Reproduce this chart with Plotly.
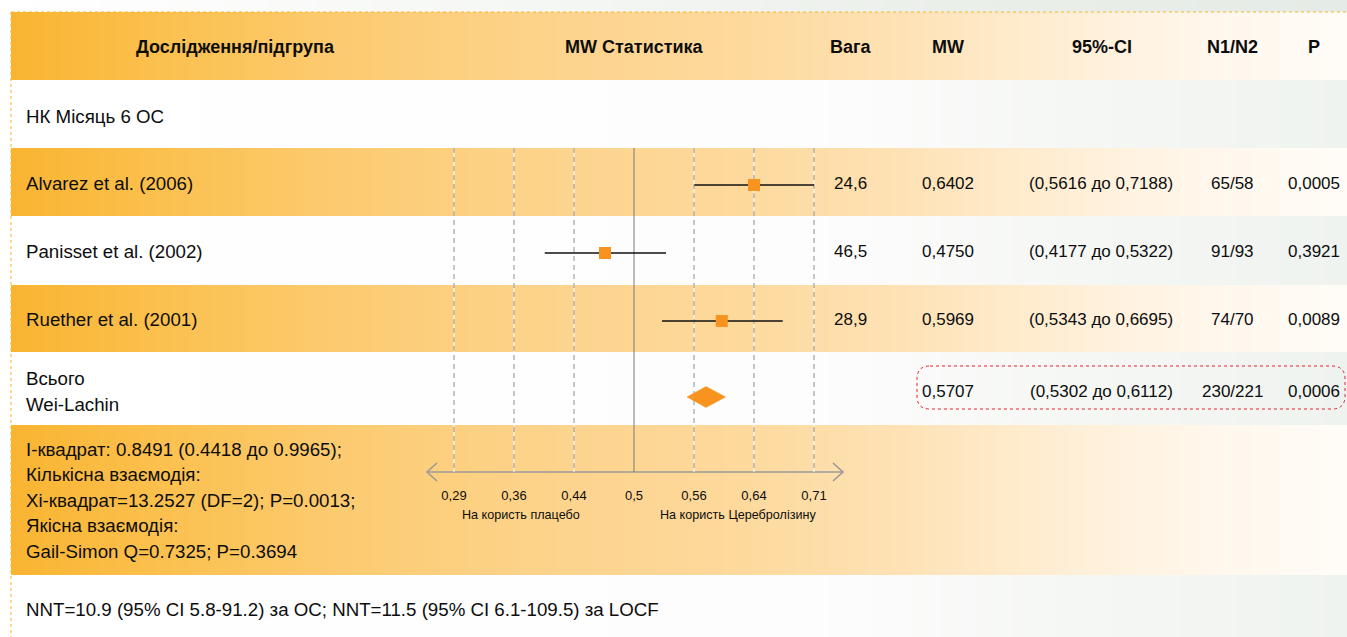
import numpy as np
import plotly.graph_objects as go

W, H = 1347, 637

# ---------------- data ----------------
studies = ["Alvarez et al. (2006)", "Panisset et al. (2002)", "Ruether et al. (2001)"]
weights = ["24,6", "46,5", "28,9"]
mw_text = ["0,6402", "0,4750", "0,5969"]
ci_text = ["(0,5616 до 0,7188)", "(0,4177 до 0,5322)", "(0,5343 до 0,6695)"]
n_text = ["65/58", "91/93", "74/70"]
p_text = ["0,0005", "0,3921", "0,0089"]

# MW positions as drawn in the graphic (read against its axis)
est_plot = [0.640, 0.471, 0.597]
lo_plot = [0.5605, 0.401, 0.528]
hi_plot = [0.710, 0.532, 0.6735]

total_label = ["Всього", "Wei-Lachin"]
total_mw = "0,5707"
total_ci = "(0,5302 до 0,6112)"
total_n = "230/221"
total_p = "0,0006"
total_est_plot = 0.576
total_lo_plot = 0.553
total_hi_plot = 0.602

tick_vals = [0.29, 0.36, 0.44, 0.5, 0.56, 0.64, 0.71]
tick_text = ["0,29", "0,36", "0,44", "0,5", "0,56", "0,64", "0,71"]
ref_value = 0.5

headers = ["Дослідження/підгрупа", "MW Статистика", "Вага", "MW", "95%-CI", "N1/N2", "P"]
subgroup = "НК Місяць 6 ОС"
favour_labels = ["На користь плацебо", "На користь Церебролізину"]
stats_lines = [
    "I-квадрат: 0.8491 (0.4418 до 0.9965);",
    "Кількісна взаємодія:",
    "Xi-квадрат=13.2527 (DF=2); P=0.0013;",
    "Якісна взаємодія:",
    "Gail-Simon Q=0.7325; P=0.3694",
]
nnt_text = "NNT=10.9 (95% CI 5.8-91.2) за ОС; NNT=11.5 (95% CI 6.1-109.5) за LOCF"

# ---------------- layout constants ----------------
FONT = "Liberation Sans, Arial, Helvetica, sans-serif"
ORANGE = "#F7931E"
TXT = "#0d0d0d"
BODY = 18.7
NUM = 17
HEAD = 18

tick_idx = np.arange(len(tick_vals), dtype=float)


def to_axis(v):
    return np.interp(np.asarray(v, dtype=float), tick_vals, tick_idx)


PX0, PX_STEP = 454.0, 60.0          # pixel of first tick, pixels per tick step
row_y = [185, 253, 321]
total_y = 397
grid_top, axis_y = 148, 472
left_x = 24

header_x = [235, 634, 851, 948, 1102, 1232, 1314]
col_w, col_mw, col_ci, col_n, col_p = 850, 948, 1101, 1232, 1314

bands = [(0, 12, "top"), (12, 80, "o"), (80, 148, "w"), (148, 216, "o"), (216, 285, "w"),
         (285, 352, "o"), (352, 425, "w"), (425, 575, "o"), (575, 637, "w")]

fig = go.Figure()

# ---------------- background gradients (heatmap) ----------------
x_edges = np.linspace(11, W, 241)
xc = (x_edges[:-1] + x_edges[1:]) / 2
f = xc / W
y_edges = [bands[0][0]] + [b[1] for b in bands]
offset = {"o": 0.0, "w": 2.0, "top": 4.0}
z = [list(f + offset[b[2]]) for b in bands]
o_stops = [(0, "#F9B42F"), (0.12, "#FBC04E"), (0.25, "#FCCB70"), (0.4, "#FDD38B"),
           (0.55, "#FDD99C"), (0.68, "#FEE3B8"), (0.8, "#FFEFD8"), (0.9, "#FFF7EC"), (1, "#FFFCF7")]
w_stops = [(0, "#FFFFFF"), (0.6, "#FDFDFD"), (0.8, "#F5F7F4"), (1, "#EFF3EF")]
t_stops = [(0, "#FFFFFF"), (0.4, "#F5F7F4"), (0.7, "#EBEFEA"), (1, "#E5EBE6")]
cs = []
for base, stops in ((0, o_stops), (2, w_stops), (4, t_stops)):
    for p, c in stops:
        cs.append([(base + p) / 5.0, c])
fig.add_trace(go.Heatmap(x=x_edges, y=y_edges, z=z, colorscale=cs, zmin=0, zmax=5,
                         showscale=False, hoverinfo="skip", zsmooth=False,
                         xaxis="x", yaxis="y"))

# ---------------- axis line with open arrow heads ----------------
ax_l, ax_r = 427, 843
fig.add_trace(go.Scatter(
    x=[ax_l, ax_r, None, ax_l + 10, ax_l, ax_l + 10, None, ax_r - 10, ax_r, ax_r - 10],
    y=[axis_y, axis_y, None, axis_y - 9, axis_y, axis_y + 9, None, axis_y - 9, axis_y, axis_y + 9],
    mode="lines", line=dict(color="#9a9a9a", width=1.6), hoverinfo="skip",
    xaxis="x", yaxis="y", showlegend=False))

# ---------------- grid lines (on MW axis) ----------------
gx, gy = [], []
for t in tick_vals:
    if t == ref_value:
        continue
    xv = float(to_axis(t))
    gx += [xv, xv, None]
    gy += [grid_top, axis_y, None]
fig.add_trace(go.Scatter(x=gx, y=gy, mode="lines", line=dict(color="rgba(255,255,255,0.85)", width=1.2),
                         hoverinfo="skip", xaxis="x2", yaxis="y", showlegend=False))
fig.add_trace(go.Scatter(x=gx, y=gy, mode="lines", line=dict(color="#8c8c8c", width=1, dash="5px,4px"),
                         hoverinfo="skip", xaxis="x2", yaxis="y", showlegend=False))
rx = float(to_axis(ref_value))
fig.add_trace(go.Scatter(x=[rx, rx], y=[grid_top, axis_y], mode="lines",
                         line=dict(color="#7a7a7a", width=1), hoverinfo="skip",
                         xaxis="x2", yaxis="y", showlegend=False))

# ---------------- CI lines, squares, diamond ----------------
cx, cy = [], []
for lo, hi, yv in zip(lo_plot, hi_plot, row_y):
    cx += [float(to_axis(lo)), float(to_axis(hi)), None]
    cy += [yv, yv, None]
fig.add_trace(go.Scatter(x=cx, y=cy, mode="lines", line=dict(color="#111111", width=1.3),
                         hoverinfo="skip", xaxis="x2", yaxis="y", showlegend=False))
fig.add_trace(go.Scatter(x=to_axis(est_plot), y=row_y, mode="markers",
                         marker=dict(symbol="square", size=12, color=ORANGE, line=dict(width=0)),
                         hoverinfo="skip", xaxis="x2", yaxis="y", showlegend=False))
dh = 10.5
dx = [float(to_axis(v)) for v in (total_lo_plot, total_est_plot, total_hi_plot, total_est_plot, total_lo_plot)]
dy = [total_y, total_y - dh, total_y, total_y + dh, total_y]
fig.add_trace(go.Scatter(x=dx, y=dy, mode="lines", fill="toself", fillcolor=ORANGE,
                         line=dict(color=ORANGE, width=0.5), hoverinfo="skip",
                         xaxis="x2", yaxis="y", showlegend=False))

# ---------------- text ----------------
ann = []


def txt(x, y, s, size=BODY, anchor="left", bold=False, color=TXT):
    ann.append(dict(x=x, y=y, xref="x", yref="y", text=f"<b>{s}</b>" if bold else s,
                    showarrow=False, xanchor=anchor, yanchor="middle",
                    font=dict(family=FONT, size=size, color=color)))


for hx, h in zip(header_x, headers):
    txt(hx, 47, h, size=HEAD, anchor="center", bold=True)
txt(left_x, 116, subgroup)
for i, yv in enumerate(row_y):
    txt(left_x, yv - 2, studies[i])
    txt(col_w, yv - 2, weights[i], size=NUM, anchor="center")
    txt(col_mw, yv - 2, mw_text[i], size=NUM, anchor="center")
    txt(col_ci, yv - 2, ci_text[i], size=NUM, anchor="center")
    txt(col_n, yv - 2, n_text[i], size=NUM, anchor="center")
    txt(col_p, yv - 2, p_text[i], size=NUM, anchor="center")
txt(left_x, 378, total_label[0])
txt(left_x, 404, total_label[1])
ty = 391
txt(col_mw, ty, total_mw, size=NUM, anchor="center")
txt(col_ci, ty, total_ci, size=NUM, anchor="center")
txt(col_n, ty, total_n, size=NUM, anchor="center")
txt(col_p, ty, total_p, size=NUM, anchor="center")
for k, s in enumerate(stats_lines):
    txt(left_x, 449 + k * 25.5, s)
txt(left_x, 609, nnt_text)
txt(521, 515, favour_labels[0], size=12.6, anchor="center")
txt(738, 515, favour_labels[1], size=12.6, anchor="center")

# ---------------- shapes: dotted borders, red rounded box ----------------
shapes = [
    dict(type="line", xref="x", yref="y", x0=11, x1=W, y0=12, y1=12,
         line=dict(color="#F7B52C", width=1, dash="dot"), layer="above"),
    dict(type="line", xref="x", yref="y", x0=11, x1=11, y0=12, y1=H,
         line=dict(color="#F7B52C", width=1, dash="dot"), layer="above"),
]
bx0, bx1, by0, by1, r = 917, 1345, 366, 409, 13
path = (f"M {bx0 + r},{by0} L {bx1 - r},{by0} Q {bx1},{by0} {bx1},{by0 + r} "
        f"L {bx1},{by1 - r} Q {bx1},{by1} {bx1 - r},{by1} L {bx0 + r},{by1} "
        f"Q {bx0},{by1} {bx0},{by1 - r} L {bx0},{by0 + r} Q {bx0},{by0} {bx0 + r},{by0} Z")
shapes.append(dict(type="path", xref="x", yref="y", path=path,
                   line=dict(color="#E8202A", width=1, dash="dot"), layer="above"))

x2_range = [-PX0 / PX_STEP, (W - PX0) / PX_STEP]

fig.update_layout(
    width=W, height=H, margin=dict(l=0, r=0, t=0, b=0),
    paper_bgcolor="white", plot_bgcolor="rgba(0,0,0,0)",
    showlegend=False, annotations=ann, shapes=shapes,
    xaxis=dict(range=[0, W], domain=[0, 1], visible=False, fixedrange=True),
    yaxis=dict(range=[H, 0], domain=[0, 1], visible=False, fixedrange=True),
    xaxis2=dict(range=x2_range, overlaying="x", anchor="free", position=1 - axis_y / H,
                side="bottom", tickmode="array", tickvals=list(tick_idx), ticktext=tick_text,
                showgrid=False, zeroline=False, showline=False,
                ticks="outside", ticklen=11, tickcolor="rgba(0,0,0,0)",
                tickfont=dict(family=FONT, size=13, color=TXT), fixedrange=True),
)

fig.write_html("out.html", config={"displayModeBar": False},
               post_script="document.body.style.margin='0';document.body.style.overflow='hidden';")
